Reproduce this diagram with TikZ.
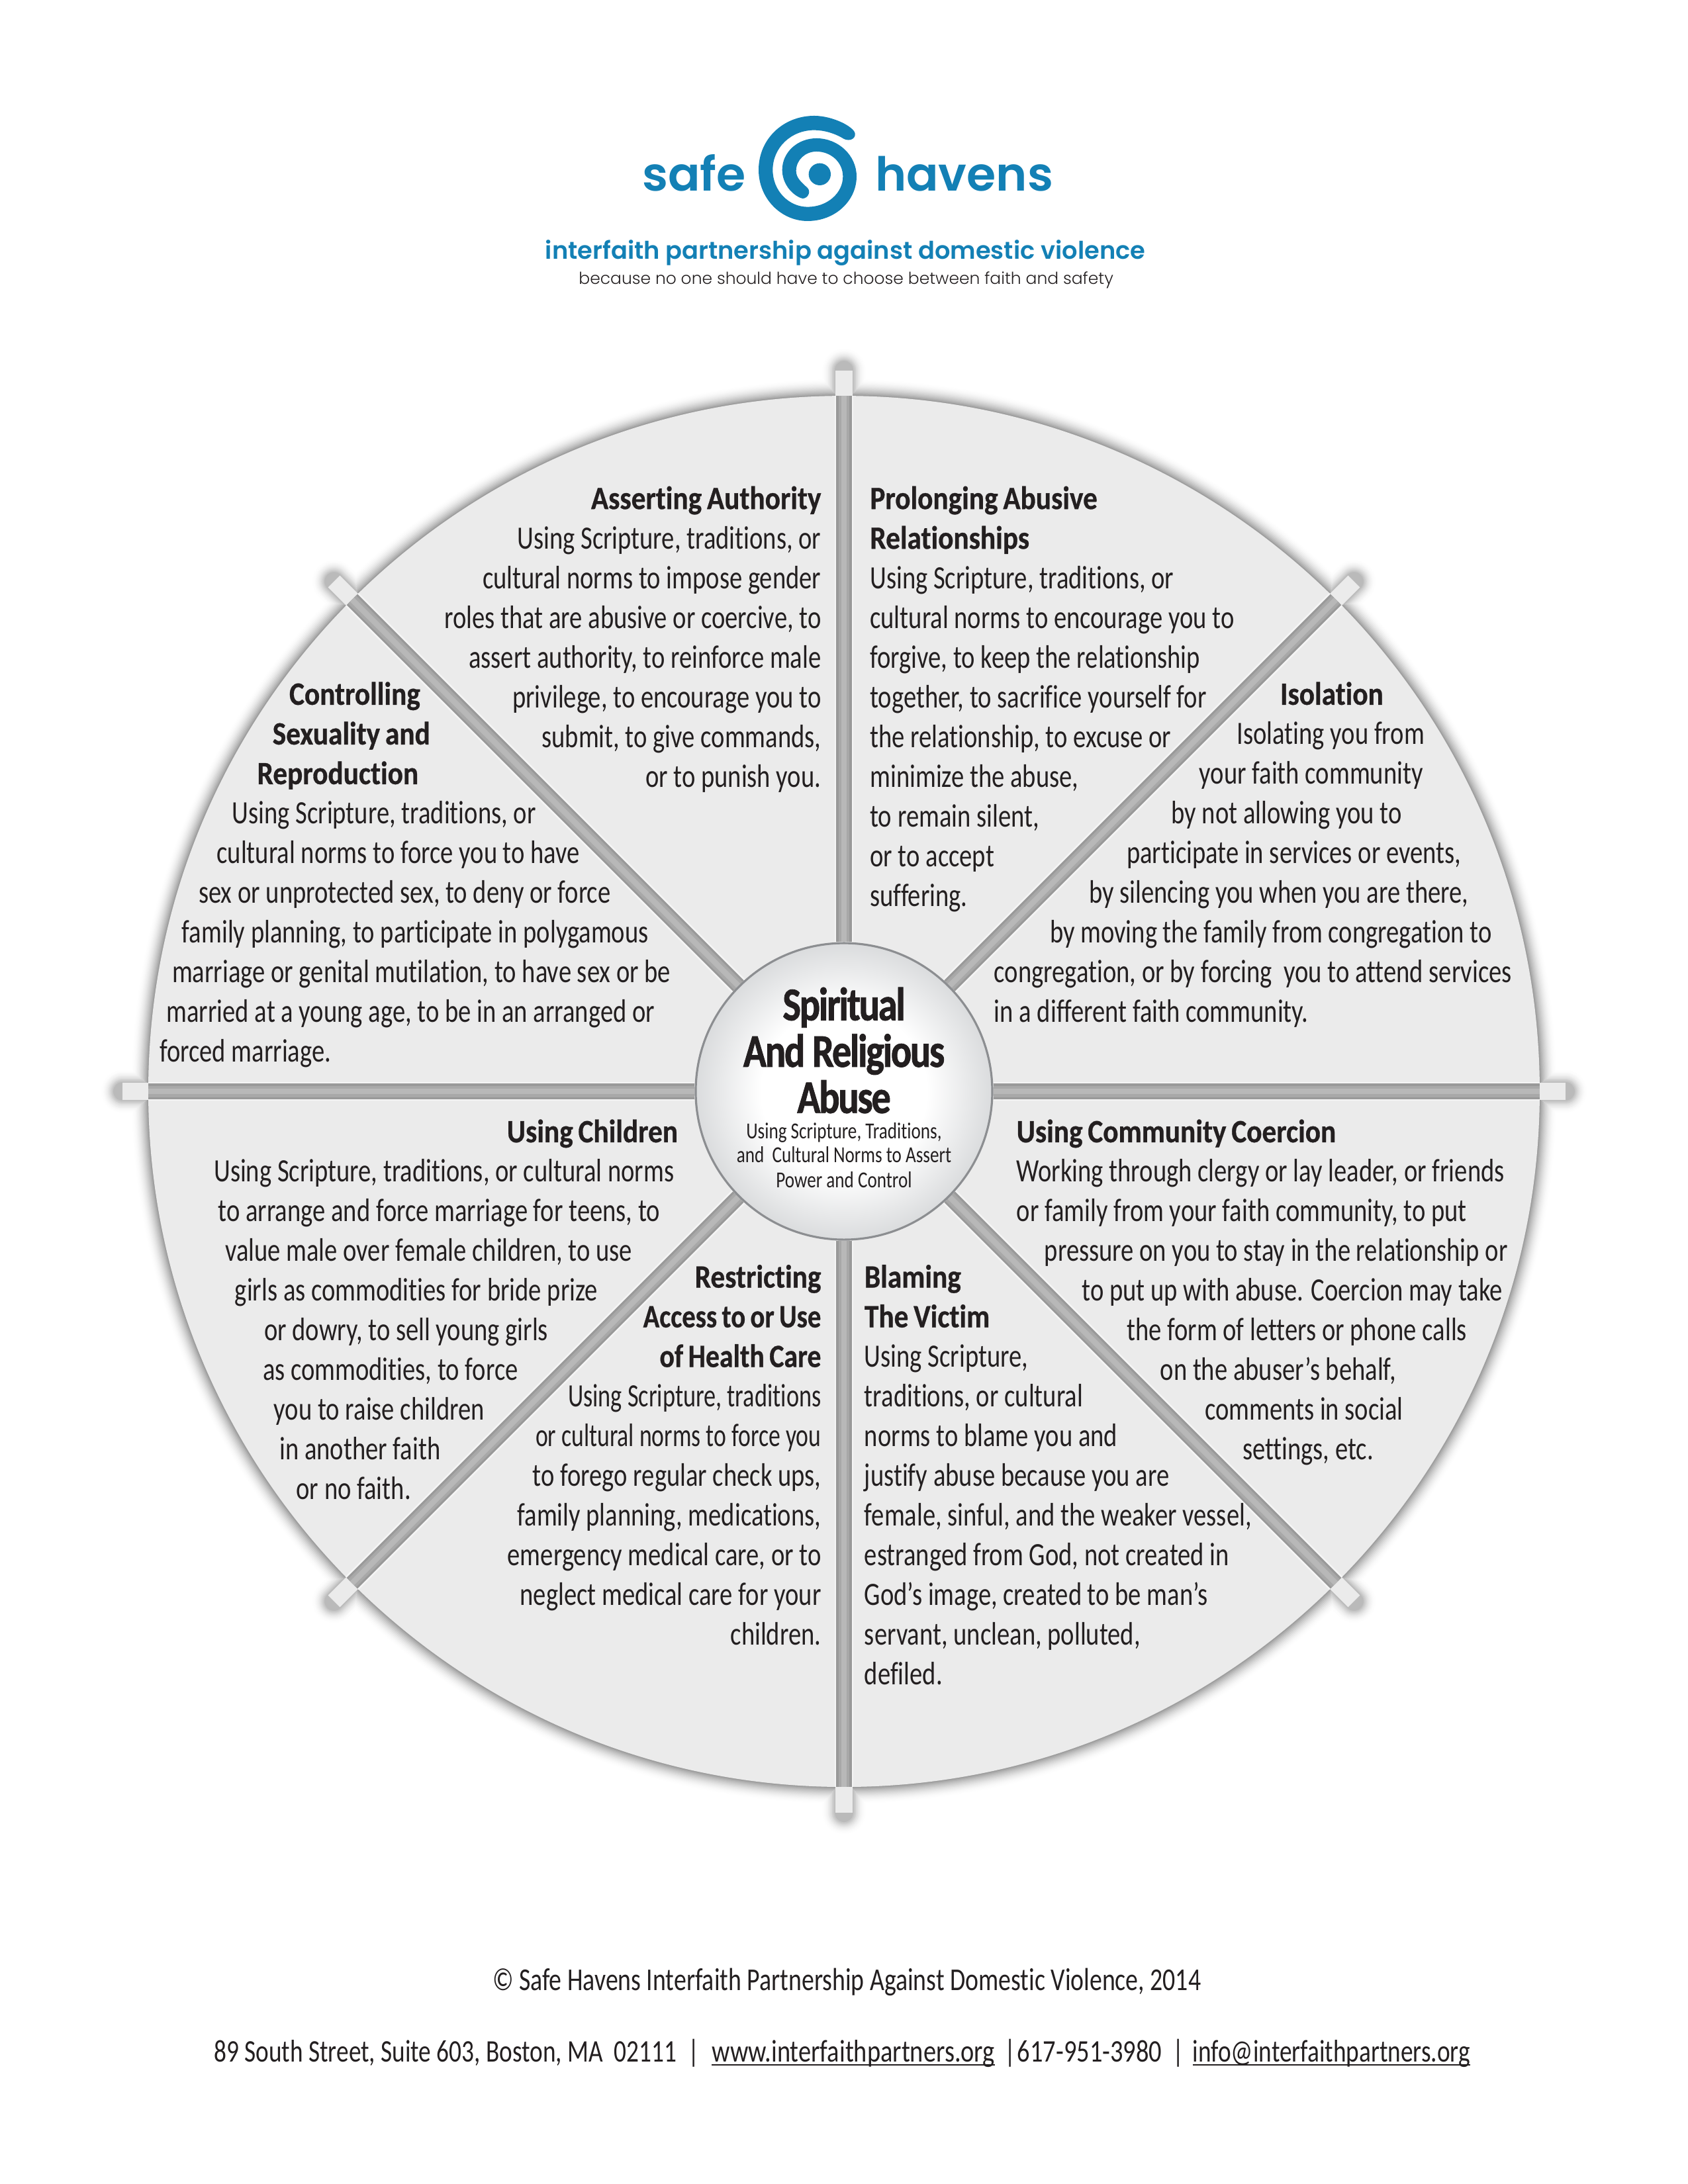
\documentclass[tikz,border=0pt]{standalone}
\usepackage{graphicx}
\usepackage{fontspec}
\setmainfont[FakeStretch=0.785,Ligatures=NoCommon]{Carlito}
\newfontfamily\headfont[FakeStretch=0.88,Ligatures=NoCommon,FakeBold=0.6,WordSpace=0.8]{Carlito Bold}
\newfontfamily\logofont[FakeStretch=1.01]{Poppins SemiBold}
\newfontfamily\tagfont{Poppins SemiBold}
\newfontfamily\logolight{Poppins Light}
\newfontfamily\hubfont[FakeStretch=0.82,LetterSpace=-3,Ligatures=NoCommon,FakeBold=1.2]{Carlito Bold}
\usetikzlibrary{backgrounds,calc}
\definecolor{brand}{HTML}{1380B5}
\definecolor{inktext}{HTML}{231F20}
\definecolor{panel}{HTML}{EBEBEB}
\definecolor{hubmid}{HTML}{D0D2D4}
\definecolor{hubmidb}{HTML}{B8BBBE}
\definecolor{hubedge}{HTML}{A8ABAE}
\definecolor{hubring}{HTML}{8C8E91}
\pgfdeclareradialshading{hubshade}{\pgfpoint{0bp}{0bp}}{color(0bp)=(white);color(14bp)=(white);color(28bp)=(hubmid);color(40bp)=(hubmidb);color(50bp)=(hubedge)}
\newlength{\uu}\setlength{\uu}{0.505785pt}
\newcommand{\off}[1]{\hspace*{\dimexpr\uu*#1\relax}}
\newcommand{\topl}{\rule{0pt}{10pt}}
\newcommand{\hd}[1]{{\headfont #1}}
\newcommand{\ul}[1]{\setbox0=\hbox{#1}\rlap{\rule[-1.3pt]{\wd0}{0.5pt}}\box0}
\tikzset{
  body/.style={inner sep=0pt,yshift=10pt,text=inktext,font=\fontsize{11.8}{14.4}\selectfont},
  blockL/.style={body,anchor=north west,align=left},
  blockR/.style={body,anchor=north east,align=right},
  hubtitlestyle/.style={inner sep=0pt,anchor=base,text=inktext,font=\hubfont\fontsize{17}{17}\selectfont},
  hubsubstyle/.style={inner sep=0pt,anchor=base,text=inktext,font=\fontsize{8.3}{9}\selectfont},
  footer/.style={inner sep=0pt,text=inktext,font=\fontsize{11.4}{14.4}\selectfont},
  logoword/.style={inner sep=0pt,anchor=base west,text=brand,font=\logofont\fontsize{17}{20}\selectfont},
  spokeA/.style={line width=13.5*\uu,color=white!50!panel},
  spokeB/.style={line width=11*\uu,color=black!40},
  spokeC/.style={line width=8*\uu,color=black!34},
  spokeD/.style={line width=4*\uu,color=black!28},
  tabline/.style={line width=12*\uu,color=panel},
}
\begin{document}
\begin{tikzpicture}[x=\uu,y=-\uu]
\useasboundingbox (0,0) rectangle (1210,1565.9);
\coordinate (ctr) at (605,782.5);
\node[circle,draw=hubring,line width=1.5*\uu,shading=hubshade,minimum size=212.6*\uu,inner sep=0pt] (hub) at (ctr) {};
\foreach \a in {0,45,...,315}{
  \coordinate (rim\a) at ($(ctr)+(\a:498.7)$);
  \coordinate (tip\a) at ($(ctr)+(\a:517)$);
}
\begin{pgfonlayer}{background}
  % soft shadow
  \foreach \i in {12,...,1}{
    \pgfmathsetmacro{\k}{44*(1-\i/13)*(1-\i/13)}
    \pgfmathsetmacro{\kt}{0.72*\k}
    \foreach \a in {0,45,...,315}{
      \draw[black!\kt,line width=(12+1.6*\i)*\uu,line cap=round] (rim\a) -- (tip\a);
    }
    \fill[black!\k] (ctr) circle (498.7+\i);
  }
  \foreach \a in {0,45,...,315}{
    \draw[tabline] (rim\a) -- (tip\a);
  }
  \fill[panel] (ctr) circle (498.7);
  \foreach \a in {0,45,...,315}{
    \draw[spokeA] (hub) -- (rim\a);
    \draw[spokeB] (hub) -- (rim\a);
    \draw[spokeC] (hub) -- (rim\a);
    \draw[spokeD] (hub) -- (rim\a);
  }
\end{pgfonlayer}

% logo
\begin{scope}[shift={(536.2,75.9)},x=.08pt,y=-.08pt]
  \fill[brand] (485,125) .. controls (480,95) and (385,45) .. (300,45)
    .. controls (160,45) and (48,150) .. (48,290)
    .. controls (48,420) and (150,522) .. (270,522)
    .. controls (395,522) and (492,430) .. (492,320)
    .. controls (492,225) and (410,147) .. (310,147)
    .. controls (225,147) and (155,210) .. (155,290)
    .. controls (155,350) and (195,400) .. (240,418)
    .. controls (262,428) and (290,395) .. (270,372)
    .. controls (240,345) and (218,325) .. (218,295)
    .. controls (218,245) and (260,207) .. (310,207)
    .. controls (375,207) and (430,255) .. (430,320)
    .. controls (430,395) and (360,458) .. (270,458)
    .. controls (185,458) and (112,385) .. (112,290)
    .. controls (112,190) and (195,110) .. (300,110)
    .. controls (345,110) and (395,125) .. (435,150)
    .. controls (460,162) and (488,150) .. (485,125) -- cycle;
  \fill[brand] (325,310) circle (50);
\end{scope}
\node[logoword] (safe) at (460,136.8) {safe};
\node[logoword] (havens) at (627,136.8) {havens};
\node[inner sep=0pt,anchor=base,text=brand,font=\tagfont\fontsize{8.83}{11}\selectfont] (tag) at (606,186) {interfaith partnership against domestic violence};
\node[inner sep=0pt,anchor=base,text=inktext,font=\logolight\fontsize{6}{8}\selectfont] (because) at (606.5,204) {because no one should have to choose between faith and safety};

% hub text
\node[hubtitlestyle] (hubtitle) at (605,731.5) {Spiritual};
\node[hubtitlestyle] (hubtitle2) at (605,764.9) {And Religious};
\node[hubtitlestyle] (hubtitle3) at (605,798) {Abuse};
\node[hubsubstyle] (hubsub1) at (605,816.2) {Using Scripture, Traditions,};
\node[hubsubstyle] (hubsub2) at (605,833.6) {and\ \ Cultural Norms to Assert};
\node[hubsubstyle] (hubsub3) at (605,851.7) {Power and Control};

% panels
\node[blockR] (assert) at (589,364.6) {\topl\hd{Asserting Authority}\\
Using Scripture, traditions, or\\
cultural norms to impose gender\\
roles that are abusive or coercive, to\\
assert authority, to reinforce male\\
privilege, to encourage you to\\
submit, to give commands,\\
or to punish you.};

\node[blockL] (prolong) at (623.3,364.6) {\topl\hd{Prolonging Abusive}\\
\hd{Relationships}\\
Using Scripture, traditions, or\\
cultural norms to encourage you to\\
forgive, to keep the relationship\\
together, to sacrifice yourself for\\
the relationship, to excuse or\\
minimize the abuse,\\
to remain silent,\\
or to accept\\
suffering.};

\node[blockL] (isolation) at (712.3,504.9) {\topl\off{205}\hd{Isolation}\\
\off{174}Isolating you from\\
\off{147}your faith community\\
\off{127}by not allowing you to\\
\off{95}participate in services or events,\\
\off{68}by silencing you when you are there,\\
\off{40}by moving the family from congregation to\\
congregation, or by forcing\ \ you to attend services\\
in a different faith community.};

\node[blockL] (sexuality) at (114,504.9) {\topl\off{93}\hd{Controlling}\\
\off{81}\hd{Sexuality and}\\
\off{70}\hd{Reproduction}\\
\off{52}Using Scripture, traditions, or\\
\off{41}cultural norms to force you to have\\
\off{28}sex or unprotected sex, to deny or force\\
\off{16}family planning, to participate in polygamous\\
\off{9}marriage or genital mutilation, to have sex or be\\
\off{5}married at a young age, to be in an arranged or\\
forced marriage.};

\node[blockL] (children) at (153,818.6) {\topl\off{210}\hd{Using Children}\\
Using Scripture, traditions, or cultural norms\\
\off{3}to arrange and force marriage for teens, to\\
\off{8}value male over female children, to use\\
\off{15}girls as commodities for bride prize\\
\off{36}or dowry, to sell young girls\\
\off{35}as commodities, to force\\
\off{43}you to raise children\\
\off{47}in another faith\\
\off{59}or no faith.};

\node[blockL] (coercion) at (728.3,818.6) {\topl\hd{Using Community Coercion}\\
Working through clergy or lay leader, or friends\\
or family from your faith community, to put\\
\off{20}pressure on you to stay in the relationship or\\
\off{47}to put up with abuse. Coercion may take\\
\off{79}the form of letters or phone calls\\
\off{103}on the abuser’s behalf,\\
\off{135}comments in social\\
\off{162}settings, etc.};

\node[blockR] (health) at (589,922.8) {\topl\hd{Restricting}\\
\scalebox{.94}[1]{\hd{Access to or Use}}\\
\scalebox{.965}[1]{\hd{of Health Care}}\\
\scalebox{.94}[1]{Using Scripture, traditions}\\
\scalebox{.925}[1]{or cultural norms to force you}\\
to forego regular check ups,\\
family planning, medications,\\
emergency medical care, or to\\
neglect medical care for your\\
children.};

\node[blockL] (blaming) at (619.3,922.8) {\topl\hd{Blaming}\\
\hd{The Victim}\\
Using Scripture,\\
traditions, or cultural\\
norms to blame you and\\
justify abuse because you are\\
female, sinful, and the weaker vessel,\\
estranged from God, not created in\\
God’s image, created to be man’s\\
servant, unclean, polluted,\\
defiled.};

% footer
\node[footer,anchor=base,font=\fontsize{11.55}{14.4}\selectfont] (copy) at (607,1427.2) {© Safe Havens Interfaith Partnership Against Domestic Violence, 2014};
\node[footer,anchor=base west] (addr) at (153,1478.2) {89 South Street, Suite 603, Boston, MA\ \ 02111\off{8}|\off{9}\ul{\scalebox{1.03}[1]{www.interfaithpartners.org}}\off{7}|\off{1}\scalebox{1.03}[1]{617-951-3980}\off{8}|\off{6}\ul{info@interfaithpartners.org}};
\end{tikzpicture}
\end{document}
